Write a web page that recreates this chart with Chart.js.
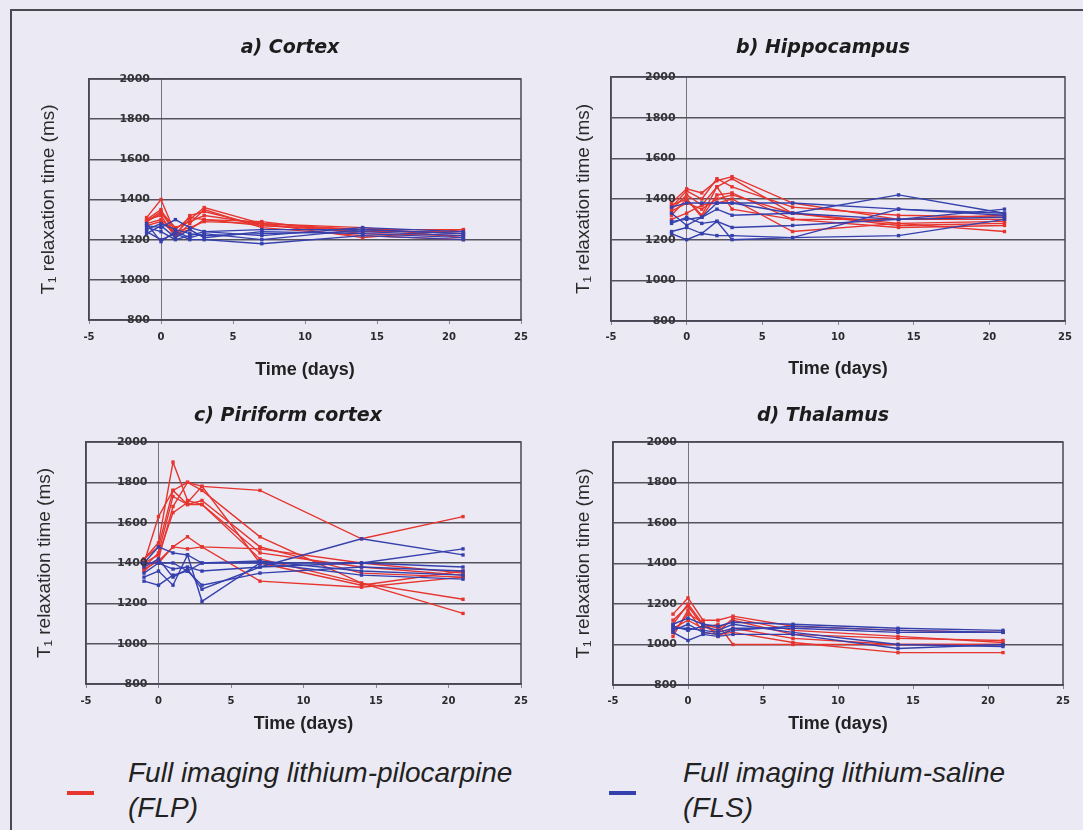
<!DOCTYPE html>
<html>
<head>
<meta charset="utf-8">
<script src="https://cdn.jsdelivr.net/npm/chart.js@4.4.1/dist/chart.umd.min.js"></script>
<style>
  html, body { margin:0; padding:0; }
  body { width:1083px; height:830px; background:#ebeaf4; position:relative; overflow:hidden; font-family:"Liberation Sans", Arial, sans-serif; }
  .frame { position:absolute; left:10px; top:9px; width:1100px; height:900px; border-left:2px solid #4a4850; border-top:2px solid #4a4850; }
  canvas { position:absolute; }
  .sw { position:absolute; height:4px; width:27px; }
  .lg { position:absolute; font-style:italic; font-size:28px; line-height:35px; color:#222; white-space:nowrap; }
</style>
</head>
<body>
<div class="frame"></div>
<canvas id="c0"></canvas>
<canvas id="c1"></canvas>
<canvas id="c2"></canvas>
<canvas id="c3"></canvas>
<div class="sw" id="sw0" style="left:67px; top:791px;"></div>
<div class="lg" id="lg0" style="left:128px; top:755px;"></div>
<div class="sw" id="sw1" style="left:609px; top:791px;"></div>
<div class="lg" id="lg1" style="left:683px; top:755px;"></div>
<script>
// ---------------- DATA ----------------
const days = [-1, 0, 1, 2, 3, 7, 14, 21];
const panelTitles = ['a) Cortex', 'b) Hippocampus', 'c) Piriform cortex', 'd) Thalamus'];
const groupNames = ['Full imaging lithium-pilocarpine', 'Full imaging lithium-saline'];
const groupAbbr = ['(FLP)', '(FLS)'];
const yAxisTitle = 'T\u2081 relaxation time (ms)';
const xAxisTitle = 'Time (days)';
const yMin = 800, yMax = 2000, yStep = 200;
const xMin = -5, xMax = 25, xStep = 5;

const cortexFLP = [
  [1310, 1400, 1230, 1300, 1360, 1280, 1250, 1250],
  [1300, 1350, 1220, 1320, 1340, 1270, 1240, 1240],
  [1290, 1330, 1250, 1310, 1300, 1290, 1230, 1220],
  [1280, 1300, 1240, 1260, 1290, 1280, 1260, 1210],
  [1300, 1320, 1210, 1280, 1350, 1260, 1220, 1200],
  [1270, 1290, 1230, 1250, 1300, 1270, 1250, 1230],
  [1290, 1340, 1260, 1290, 1320, 1280, 1210, 1250]
];
const cortexFLS = [
  [1270, 1260, 1300, 1260, 1240, 1250, 1250, 1230],
  [1250, 1280, 1250, 1230, 1220, 1230, 1240, 1220],
  [1240, 1200, 1230, 1200, 1200, 1180, 1220, 1200],
  [1260, 1240, 1200, 1220, 1240, 1220, 1260, 1240],
  [1230, 1270, 1210, 1250, 1210, 1240, 1230, 1210],
  [1280, 1190, 1240, 1210, 1230, 1200, 1250, 1230]
];
const hippocampusFLP = [
  [1380, 1450, 1430, 1490, 1510, 1380, 1300, 1320],
  [1350, 1420, 1370, 1460, 1500, 1330, 1280, 1290],
  [1320, 1400, 1310, 1420, 1430, 1300, 1260, 1270],
  [1300, 1330, 1370, 1380, 1400, 1240, 1280, 1240],
  [1370, 1400, 1320, 1460, 1350, 1300, 1300, 1300],
  [1340, 1380, 1350, 1400, 1420, 1330, 1270, 1280],
  [1360, 1440, 1400, 1500, 1460, 1360, 1320, 1310]
];
const hippocampusFLS = [
  [1360, 1380, 1380, 1380, 1380, 1380, 1350, 1330],
  [1290, 1300, 1310, 1350, 1320, 1330, 1300, 1310],
  [1240, 1260, 1230, 1290, 1260, 1270, 1300, 1350],
  [1230, 1200, 1230, 1220, 1220, 1210, 1220, 1300],
  [1330, 1270, 1310, 1380, 1380, 1330, 1420, 1330],
  [1280, 1310, 1280, 1290, 1200, 1210, 1350, 1320]
];
const piriformFLP = [
  [1420, 1500, 1900, 1710, 1690, 1420, 1300, 1220],
  [1400, 1630, 1760, 1800, 1780, 1760, 1520, 1630],
  [1380, 1450, 1730, 1690, 1710, 1480, 1350, 1330],
  [1360, 1420, 1680, 1800, 1760, 1530, 1300, 1150],
  [1400, 1400, 1480, 1530, 1480, 1470, 1400, 1350],
  [1420, 1480, 1760, 1690, 1690, 1450, 1380, 1340],
  [1370, 1410, 1480, 1470, 1480, 1310, 1280, 1330],
  [1400, 1440, 1650, 1700, 1780, 1400, 1290, 1360]
];
const piriformFLS = [
  [1400, 1480, 1450, 1440, 1400, 1400, 1400, 1470],
  [1350, 1400, 1370, 1380, 1360, 1380, 1520, 1440],
  [1310, 1290, 1340, 1360, 1290, 1350, 1380, 1360],
  [1330, 1360, 1290, 1440, 1210, 1400, 1340, 1320],
  [1380, 1420, 1330, 1370, 1270, 1380, 1400, 1380],
  [1400, 1400, 1400, 1360, 1400, 1410, 1360, 1340]
];
const thalamusFLP = [
  [1150, 1230, 1120, 1120, 1140, 1090, 1070, 1060],
  [1100, 1200, 1100, 1080, 1120, 1050, 1030, 1020],
  [1040, 1170, 1060, 1050, 1060, 1010, 960, 960],
  [1080, 1120, 1080, 1100, 1000, 1000, 1000, 1000],
  [1120, 1190, 1090, 1060, 1130, 1070, 1040, 1010],
  [1060, 1150, 1110, 1040, 1080, 1030, 1000, 1000]
];
const thalamusFLS = [
  [1100, 1130, 1100, 1090, 1110, 1100, 1080, 1070],
  [1080, 1080, 1070, 1060, 1080, 1080, 1060, 1060],
  [1060, 1020, 1050, 1040, 1050, 1050, 980, 1000],
  [1090, 1070, 1090, 1070, 1100, 1060, 1000, 990],
  [1070, 1100, 1060, 1050, 1070, 1090, 1070, 1060]
];
const panelData = [
  [cortexFLP, cortexFLS],
  [hippocampusFLP, hippocampusFLS],
  [piriformFLP, piriformFLS],
  [thalamusFLP, thalamusFLS]
];

// ---------------- STYLE / LAYOUT ----------------
const groupColors = ['#e6342e', '#3540ad'];
const layoutCfg = [
  { canvas:{l:20, t:20, w:520, h:370},  plot:{l:89,  t:79,  r:521,  b:320}, title:{x:290, y:48},  yTitleX:49,  xTitleY:370, tickY:337 },
  { canvas:{l:550, t:20, w:530, h:370}, plot:{l:611, t:77,  r:1065, b:321}, title:{x:823, y:48},  yTitleX:584, xTitleY:369, tickY:337 },
  { canvas:{l:20, t:395, w:520, h:350}, plot:{l:86,  t:442, r:521,  b:684}, title:{x:288, y:416}, yTitleX:45,  xTitleY:724, tickY:701 },
  { canvas:{l:550, t:395, w:530, h:350},plot:{l:613, t:442, r:1063, b:685}, title:{x:823, y:416}, yTitleX:584, xTitleY:724, tickY:701 }
];

const deco = {
  id: 'deco',
  afterDraw(chart, args, opts) {
    const ctx = chart.ctx, a = chart.chartArea;
    const xs = chart.scales.x, ys = chart.scales.y;
    ctx.save();
    ctx.strokeStyle = '#4a4756';
    ctx.lineWidth = 1.5;
    ctx.strokeRect(a.left, a.top, a.right - a.left, a.bottom - a.top);
    const x0 = xs.getPixelForValue(0);
    ctx.font = 'bold 11px "DejaVu Sans"';
    ctx.fillStyle = '#333337';
    ctx.textAlign = 'right';
    ctx.textBaseline = 'middle';
    ys.ticks.forEach(t => ctx.fillText(String(t.value), x0 - 11, ys.getPixelForValue(t.value)));
    ctx.font = 'bold italic 19px "DejaVu Sans"';
    ctx.fillStyle = '#1c1c1c';
    ctx.textAlign = 'center';
    ctx.fillText(opts.text, opts.cx, opts.cy);
    ctx.restore();
  }
};

panelData.forEach((groups, p) => {
  const L = layoutCfg[p];
  const cv = document.getElementById('c' + p);
  cv.width = L.canvas.w; cv.height = L.canvas.h;
  cv.style.left = L.canvas.l + 'px'; cv.style.top = L.canvas.t + 'px';
  cv.style.width = L.canvas.w + 'px'; cv.style.height = L.canvas.h + 'px';

  const datasets = [];
  [1, 0].forEach(g => {
    groups[g].forEach(series => {
      datasets.push({
        data: days.map((d, i) => ({ x: d, y: series[i] })),
        borderColor: groupColors[g],
        backgroundColor: groupColors[g],
        borderWidth: 1.4,
        pointRadius: 2.4,
        pointStyle: 'rect',
        pointBorderWidth: 0,
        showLine: true,
        fill: false,
        tension: 0
      });
    });
  });

  const yW = L.plot.l - L.canvas.l;
  const xH = L.canvas.t + L.canvas.h - L.plot.b;

  new Chart(cv, {
    type: 'line',
    data: { datasets },
    options: {
      responsive: false,
      animation: false,
      devicePixelRatio: 1,
      layout: { padding: { left: 0, top: L.plot.t - L.canvas.t, right: L.canvas.l + L.canvas.w - L.plot.r, bottom: 0 } },
      plugins: {
        legend: { display: false },
        tooltip: { enabled: false },
        deco: { text: panelTitles[p], cx: L.title.x - L.canvas.l, cy: L.title.y - L.canvas.t }
      },
      scales: {
        x: {
          type: 'linear', min: xMin, max: xMax,
          ticks: { stepSize: xStep, font: { family: 'DejaVu Sans', size: 10, weight: 'bold' }, color: '#2a2a2e', padding: L.tickY - L.plot.b - 4 - 6 },
          grid: {
            color: c => (c.tick && c.tick.value === 0) ? '#77747f' : 'rgba(0,0,0,0)',
            lineWidth: 1,
            tickLength: 4,
            tickColor: '#8a8792'
          },
          border: { display: true, color: '#4a4756', width: 1.5 },
          title: { display: true, text: xAxisTitle, font: { family: 'Liberation Sans', size: 18, weight: 'bold' }, color: '#222',
                   padding: { top: 0, bottom: (L.canvas.t + L.canvas.h - L.xTitleY) - 10.8 } },
          afterFit: s => { s.height = xH; }
        },
        y: {
          type: 'linear', min: yMin, max: yMax,
          ticks: { stepSize: yStep, display: false },
          grid: { color: '#55525f', lineWidth: 1.5, drawTicks: false },
          border: { display: true, color: '#4a4756', width: 1.5 },
          title: { display: true, text: yAxisTitle, font: { family: 'Liberation Sans', size: 19 }, color: '#2a2a2a',
                   padding: { top: (L.yTitleX - L.canvas.l) - 11.4, bottom: 0 } },
          afterFit: s => { s.width = yW; }
        }
      }
    },
    plugins: [deco]
  });
});

// legend
[0, 1].forEach(g => {
  document.getElementById('sw' + g).style.background = groupColors[g];
  document.getElementById('lg' + g).innerHTML = groupNames[g] + '<br>' + groupAbbr[g];
});
</script>
</body>
</html>
